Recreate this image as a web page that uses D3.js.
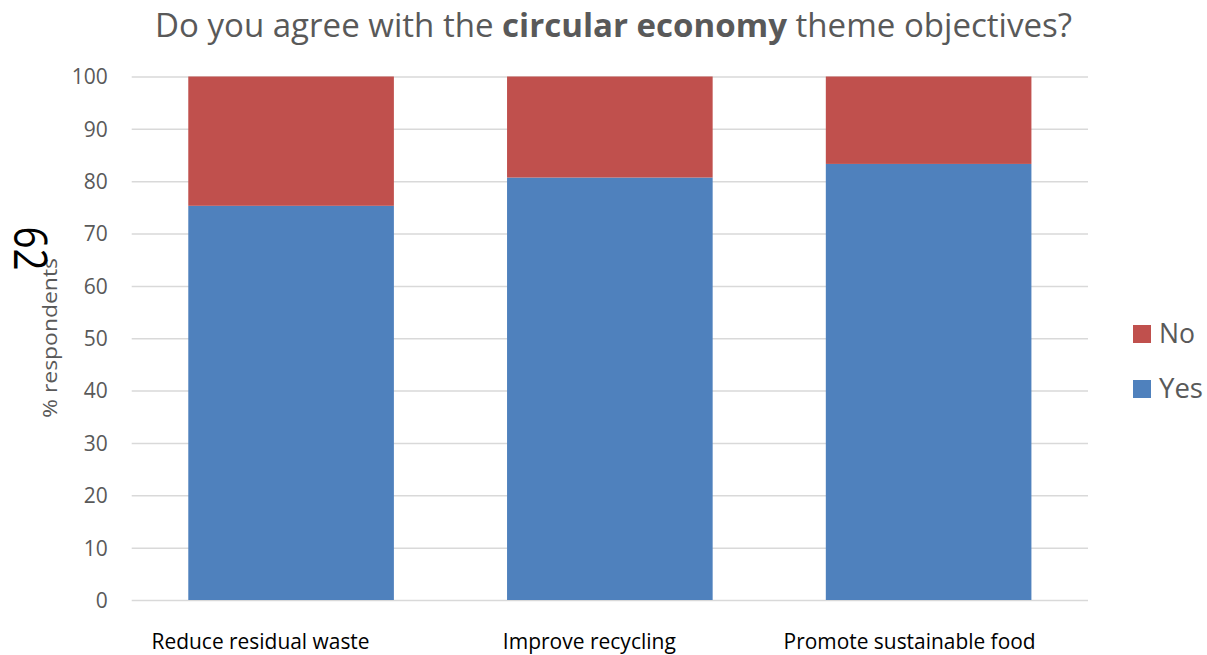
<!DOCTYPE html>
<html>
<head>
<meta charset="utf-8">
<script src="https://cdn.jsdelivr.net/npm/d3@7"></script>
<style>
  html, body { margin: 0; padding: 0; background: #fff; }
  svg { display: block; }
  text { font-family: "Open Sans", "Noto Sans", sans-serif; }
</style>
</head>
<body>
<svg id="chart" width="1207" height="655"></svg>
<script>
// Survey results: share of respondents agreeing with each objective
const categories = ["Reduce residual waste", "Improve recycling", "Promote sustainable food"];
const yesValues = [75.3, 80.7, 83.3];
const noValues = [24.7, 19.3, 16.7];
const seriesNames = ["Yes", "No"];
const yTicks = [0, 10, 20, 30, 40, 50, 60, 70, 80, 90, 100];

const colors = { Yes: "#4F81BD", No: "#C0504D" };

const svg = d3.select("#chart");
const plot = { left: 131.7, right: 1088, top: 76.5, bottom: 600 };

// Horizontal nudge of each category label relative to its bar centre
const labelShift = [-30.5, -20.5, -19];
const labelWidth = [218, 173, 252];

const x = d3.scaleBand()
  .domain(categories)
  .range([plot.left, plot.right])
  .paddingInner(0.355)
  .paddingOuter(0.1775);

const y = d3.scaleLinear().domain([0, 100]).range([plot.bottom, plot.top]);

// Stacked data
const rows = categories.map((c, i) => ({ category: c, Yes: yesValues[i], No: noValues[i] }));
const stacked = d3.stack().keys(seriesNames)(rows);

// Gridlines and tick labels
const yAxis = d3.axisLeft(y).tickValues(yTicks).tickSize(-(plot.right - plot.left)).tickPadding(24);
const gAxis = svg.append("g").attr("transform", `translate(${plot.left},0)`).call(yAxis);
gAxis.select(".domain").remove();
gAxis.selectAll(".tick line").attr("stroke", "#D9D9D9").attr("stroke-width", 1.5);
gAxis.selectAll(".tick text")
  .attr("fill", "#595959")
  .attr("font-size", 21)
  .attr("font-family", "'Open Sans', sans-serif")
  .attr("dy", "0.35em");

// Bars
svg.append("g").selectAll("g")
  .data(stacked)
  .join("g")
  .attr("fill", d => colors[d.key])
  .selectAll("rect")
  .data(d => d)
  .join("rect")
  .attr("x", d => x(d.data.category))
  .attr("width", x.bandwidth())
  .attr("y", d => y(d[1]))
  .attr("height", d => y(d[0]) - y(d[1]));

// Category labels
svg.append("g").selectAll("text")
  .data(categories)
  .join("text")
  .attr("x", (d, i) => x(d) + x.bandwidth() / 2 + labelShift[i])
  .attr("y", 649)
  .attr("text-anchor", "middle")
  .attr("font-size", 21)
  .attr("fill", "#000")
  .attr("textLength", (d, i) => labelWidth[i])
  .attr("lengthAdjust", "spacingAndGlyphs")
  .text(d => d);

// Title
const title = svg.append("text")
  .attr("x", 613.5)
  .attr("y", 37)
  .attr("text-anchor", "middle")
  .attr("font-size", 33)
  .attr("fill", "#595959")
  .attr("textLength", 917)
  .attr("lengthAdjust", "spacingAndGlyphs");
title.append("tspan").text("Do you agree with the ");
title.append("tspan").attr("font-weight", "bold").text("circular economy");
title.append("tspan").text(" theme objectives?");

// Y axis title
svg.append("text")
  .attr("transform", "translate(57,338) rotate(-90)")
  .attr("text-anchor", "middle")
  .attr("font-size", 20)
  .attr("fill", "#595959")
  .attr("textLength", 160)
  .attr("lengthAdjust", "spacingAndGlyphs")
  .text("% respondents");

// Page number
svg.append("text")
  .attr("transform", "translate(14,248.5) rotate(90)")
  .attr("text-anchor", "middle")
  .attr("font-size", 45)
  .attr("fill", "#000")
  .attr("textLength", 44)
  .attr("lengthAdjust", "spacingAndGlyphs")
  .text("62");

// Legend (No above Yes)
const legendItems = ["No", "Yes"];
const legend = svg.append("g").selectAll("g")
  .data(legendItems)
  .join("g")
  .attr("transform", (d, i) => `translate(1133,${325 + i * 55})`);
legend.append("rect").attr("width", 18).attr("height", 18).attr("fill", d => colors[d]);
legend.append("text")
  .attr("x", 26)
  .attr("y", 9)
  .attr("dy", "0.35em")
  .attr("font-size", 27)
  .attr("fill", "#595959")
  .attr("textLength", d => d === "No" ? 36 : 44)
  .attr("lengthAdjust", "spacingAndGlyphs")
  .text(d => d);
</script>
</body>
</html>
